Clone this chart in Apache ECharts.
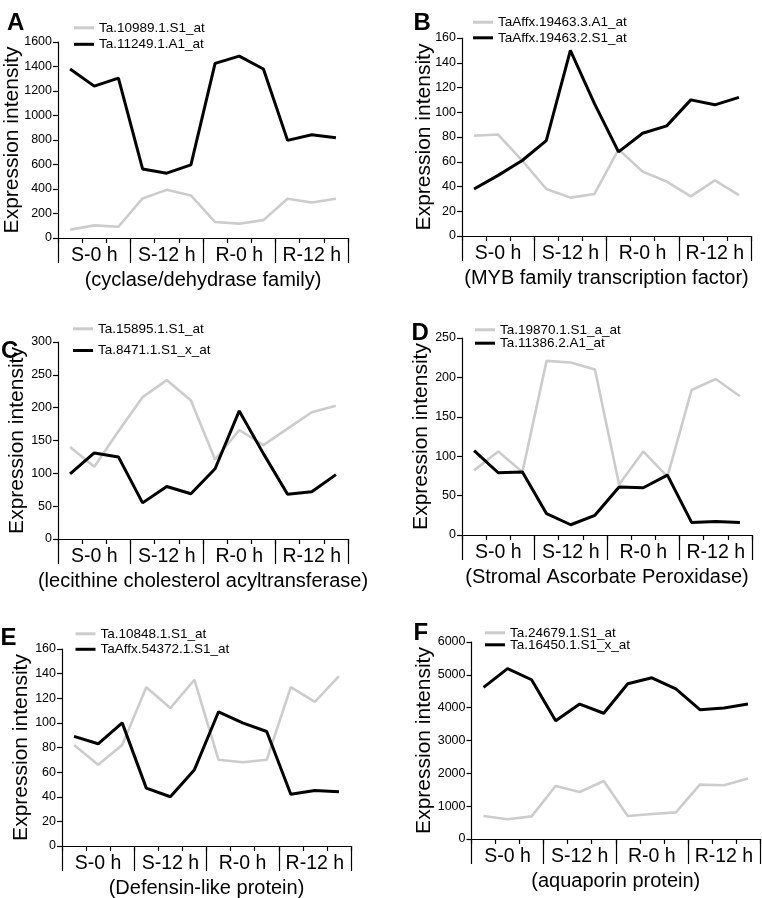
<!DOCTYPE html>
<html>
<head>
<meta charset="utf-8">
<script src="https://cdn.jsdelivr.net/npm/echarts@6/dist/echarts.min.js"></script>
<style>
html,body{margin:0;padding:0;background:#fff;}
#chart{width:762px;height:898px;}
</style>
</head>
<body>
<div id="chart"></div>
<script>
// ---- data ----
const samples = ['S-0 h a','S-0 h b','S-0 h c','S-12 h a','S-12 h b','S-12 h c','R-0 h a','R-0 h b','R-0 h c','R-12 h a','R-12 h b','R-12 h c'];
const groups = ['S-0 h','S-12 h','R-0 h','R-12 h'];
const yAxisName = 'Expression intensity';

const panelLetters = ['A','B','C','D','E','F'];
const subtitles = ['(cyclase/dehydrase family)','(MYB family transcription factor)','(lecithine cholesterol acyltransferase)','(Stromal Ascorbate Peroxidase)','(Defensin-like protein)','(aquaporin protein)'];
const yMaxes = [1600,160,300,250,160,6000];
const yIntervals = [200,20,50,50,20,1000];

const grayNames = ['Ta.10989.1.S1_at','TaAffx.19463.3.A1_at','Ta.15895.1.S1_at','Ta.19870.1.S1_a_at','Ta.10848.1.S1_at','Ta.24679.1.S1_at'];
const blackNames = ['Ta.11249.1.A1_at','TaAffx.19463.2.S1_at','Ta.8471.1.S1_x_at','Ta.11386.2.A1_at','TaAffx.54372.1.S1_at','Ta.16450.1.S1_x_at'];

const A_gray  = [68,103,92,323,393,347,130,117,146,320,290,320];
const A_black = [1380,1240,1305,564,529,597,1425,1485,1380,797,843,819];
const B_gray  = [81,82,61,38,31,34,70,52,44,32,45,33];
const B_black = [38,49,61,77,150,107,68,83,89,110,106,112];
const C_gray  = [140,110,164,216,242,211,121,166,143,168,193,203];
const C_black = [99,131,125,55,80,69,107,195,130,68,72,98];
const D_gray  = [82,106,80,221,219,210,64,106,74,184,198,176];
const D_black = [107,79,80,27,13,25,61,60,76,16,17,16];
const E_gray  = [82,66,82,129,112,135,70,68,70,129,117,138];
const E_black = [89,83,100,47,40,62,109,100,93,42,45,44];
const F_gray  = [700,600,690,1615,1430,1765,700,760,810,1655,1635,1840];
const F_black = [4620,5190,4850,3600,4110,3830,4730,4910,4570,3940,3990,4110];

const grayData = [A_gray,B_gray,C_gray,D_gray,E_gray,F_gray];
const blackData = [A_black,B_black,C_black,D_black,E_black,F_black];

// ---- layout (positions only) ----
const gridBoxes = [
  {left:58, top:42, width:290, height:196},
  {left:462, top:38, width:289, height:198},
  {left:58, top:342, width:290, height:197},
  {left:462, top:338, width:290, height:197},
  {left:62, top:649, width:289, height:197},
  {left:471.5, top:642, width:288.5, height:197}
];
const yNameGaps = [35,27,30,30,30,37];
const legendPos = [
  [[74,20.8],[74,37.3]],
  [[473,15.2],[473,30.8]],
  [[73,321.8],[73,343.5]],
  [[475,322.8],[475,336.2]],
  [[75.5,626.8],[75.5,642.3]],
  [[485,625.8],[485,637.8]]
];
const letterPos = [[7,11],[413.5,11],[1,339],[411.5,321],[0.5,626],[413.5,621]];

const FONT = '"Liberation Sans", Arial, Helvetica, sans-serif';
const GRAY = '#cccccc';
const BLACK = '#000000';

const grid = [], xAxis = [], yAxis = [], series = [], legend = [], title = [];
for (let i = 0; i < 6; i++) {
  const g = gridBoxes[i];
  grid.push({left:g.left, top:g.top, width:g.width, height:g.height, containLabel:false, outerBoundsMode:'none'});
  // sample axis (12 categories, short ticks)
  xAxis.push({
    type:'category', gridIndex:i, data:samples, position:'bottom', boundaryGap:true,
    axisLine:{show:true, lineStyle:{color:BLACK, width:1.2}},
    axisTick:{show:true, interval:0, length:5, inside:false, lineStyle:{color:BLACK, width:1.2}},
    axisLabel:{show:false}, splitLine:{show:false}
  });
  // group axis (4 groups, long separators)
  xAxis.push({
    type:'category', gridIndex:i, data:groups, position:'bottom', boundaryGap:true,
    axisLine:{show:false},
    axisTick:{show:true, interval:0, length:25, inside:false, lineStyle:{color:BLACK, width:1.2}},
    axisLabel:{show:true, interval:0, margin:7.5, color:BLACK, fontSize:19.5, fontFamily:FONT},
    splitLine:{show:false},
    name:subtitles[i], nameLocation:'middle', nameGap:32, nameMoveOverlap:false,
    nameTextStyle:{color:BLACK, fontSize:20, fontFamily:FONT}
  });
  yAxis.push({
    type:'value', gridIndex:i, min:0, max:yMaxes[i], interval:yIntervals[i],
    axisLine:{show:true, lineStyle:{color:BLACK, width:1.2}},
    axisTick:{show:true, length:5, inside:false, lineStyle:{color:BLACK, width:1.2}},
    axisLabel:{show:true, margin:6, color:BLACK, fontSize:12.5, fontFamily:FONT, formatter:function(v){return String(v);}},
    splitLine:{show:false},
    name:yAxisName, nameLocation:'middle', nameGap:yNameGaps[i], nameRotate:90, nameMoveOverlap:false,
    nameTextStyle:{color:BLACK, fontSize:21, fontFamily:FONT}
  });
  series.push({
    type:'line', name:grayNames[i], xAxisIndex:2*i, yAxisIndex:i, data:grayData[i],
    symbol:'none', silent:true, color:GRAY, lineStyle:{color:GRAY, width:2.6}, z:2
  });
  series.push({
    type:'line', name:blackNames[i], xAxisIndex:2*i, yAxisIndex:i, data:blackData[i],
    symbol:'none', silent:true, color:BLACK, lineStyle:{color:BLACK, width:3}, z:3
  });
  const names = [grayNames[i], blackNames[i]];
  for (let k = 0; k < 2; k++) {
    legend.push({
      data:[names[k]], left:legendPos[i][k][0], top:legendPos[i][k][1], padding:0,
      orient:'vertical', icon:'rect', itemWidth:20, itemHeight:3, selectedMode:false,
      textStyle:{color:BLACK, fontSize:13.5, fontFamily:FONT, lineHeight:14}
    });
  }
  title.push({
    text:panelLetters[i], left:letterPos[i][0], top:letterPos[i][1], padding:0,
    textStyle:{color:BLACK, fontSize:24, fontWeight:'bold', fontFamily:FONT, lineHeight:24}
  });
}

const chart = echarts.init(document.getElementById('chart'), null, {renderer:'canvas'});
chart.setOption({
  animation:false,
  backgroundColor:'#ffffff',
  title:title, legend:legend, grid:grid, xAxis:xAxis, yAxis:yAxis, series:series
});
</script>
</body>
</html>
